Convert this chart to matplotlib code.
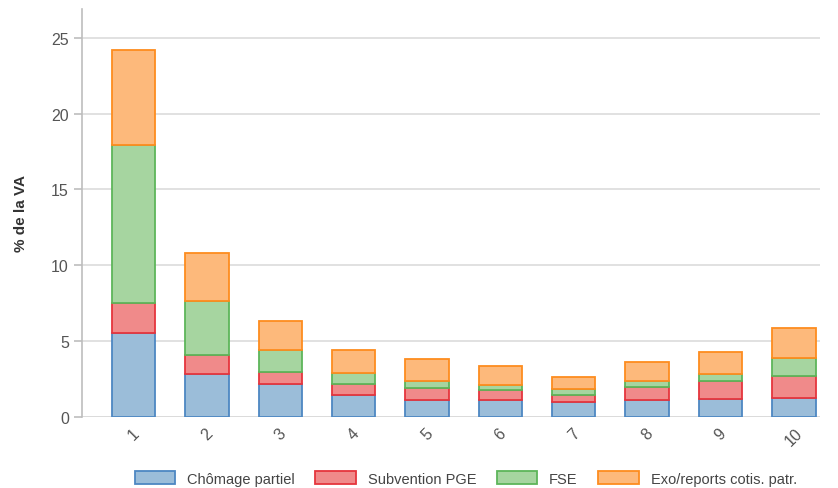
import numpy as np
import matplotlib
matplotlib.use('Agg')
import matplotlib.pyplot as plt

plt.rcParams['font.family'] = ['Liberation Sans', 'DejaVu Sans']

# Data (% of value added)
categories = ['1', '2', '3', '4', '5', '6', '7', '8', '9', '10']
chomage = [5.54, 2.81, 2.15, 1.47, 1.14, 1.14, 1.01, 1.12, 1.21, 1.29]
subvention = [1.97, 1.30, 0.85, 0.71, 0.77, 0.66, 0.46, 0.86, 1.18, 1.45]
fse = [10.39, 3.51, 1.42, 0.74, 0.48, 0.33, 0.35, 0.39, 0.44, 1.15]
exo = [6.30, 3.21, 1.93, 1.50, 1.43, 1.23, 0.79, 1.26, 1.45, 2.00]

series = [
    ('Chômage partiel', chomage, '#9bbdd9', '#4d87c2'),
    ('Subvention PGE', subvention, '#f08a8a', '#e5353d'),
    ('FSE', fse, '#a6d5a0', '#5db55a'),
    ('Exo/reports cotis. patr.', exo, '#fdb97b', '#fd8c1f'),
]

fig = plt.figure(figsize=(8.38, 4.89), dpi=100)
ax = fig.add_axes([0.098, 0.145, 0.88, 0.835])

x = np.arange(len(categories))
bottom = np.zeros(len(categories))
for label, vals, face, edge in series:
    ax.bar(x, vals, bottom=bottom, width=0.59, color=face, edgecolor=edge,
           linewidth=1.3, label=label, zorder=3)
    bottom += np.array(vals)

ax.set_ylim(0, 26.9)
ax.set_xlim(-0.7, 9.35)
ax.set_yticks([0, 5, 10, 15, 20, 25])
ax.set_xticks(x)
ax.set_xticklabels(categories, rotation=45, ha='center')
ax.grid(axis='y', color='#dcdcdc', linewidth=1.2, zorder=0)
ax.axhline(0, color='#d0d0d0', linewidth=1.2, zorder=1)

for s in ['top', 'right', 'bottom']:
    ax.spines[s].set_visible(False)
ax.spines['left'].set_color('#bdbdbd')
ax.spines['left'].set_linewidth(1.2)
ax.tick_params(axis='y', colors='#bdbdbd', labelcolor='#555555', labelsize=11.5, length=6, width=1.2)
ax.tick_params(axis='x', length=0, labelcolor='#555555', labelsize=11.5, pad=6)

ax.set_ylabel('% de la VA', fontsize=11, fontweight='bold', color='#333333', labelpad=17)

ax.legend(loc='upper center', bbox_to_anchor=(0.52, -0.1), ncol=4, frameon=False,
          fontsize=10.5, handlelength=2.8, handleheight=1.0, columnspacing=1.4,
          handletextpad=0.8, labelcolor='#444444')

fig.savefig('out.png', dpi=100)
